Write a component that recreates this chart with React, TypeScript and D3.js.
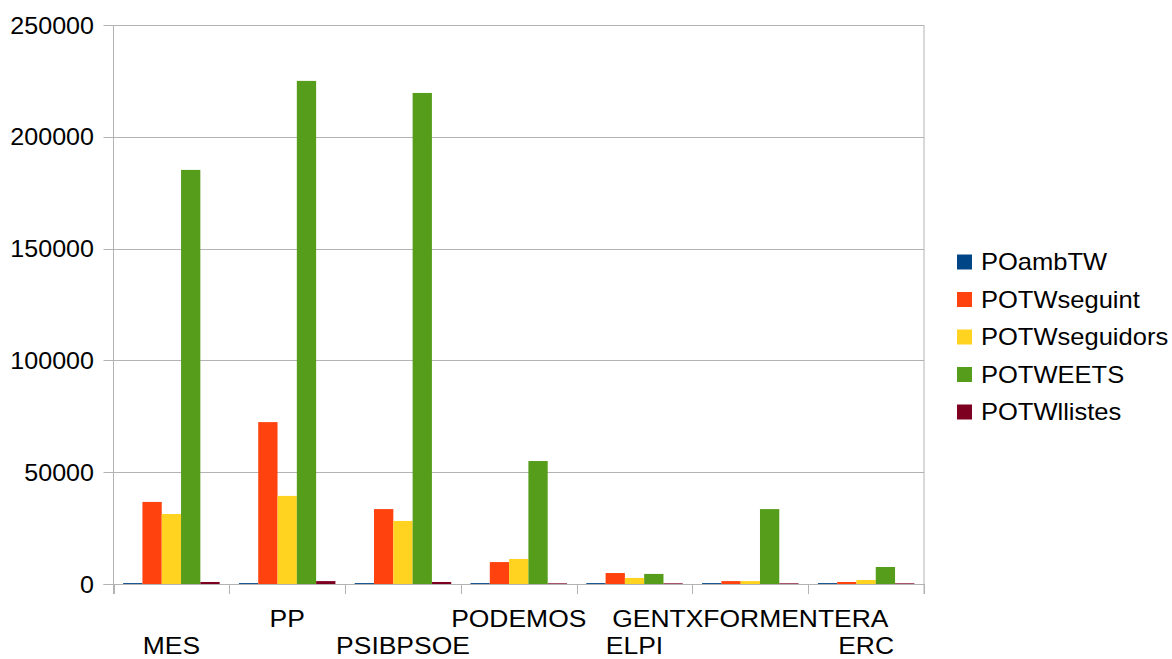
import React from "react";
import * as d3 from "d3";

const categories = ["MES", "PP", "PSIBPSOE", "PODEMOS", "ELPI", "GENTXFORMENTERA", "ERC"];
const seriesNames = ["POambTW", "POTWseguint", "POTWseguidors", "POTWEETS", "POTWllistes"];
const POambTW = [400, 400, 400, 400, 400, 400, 400];
const POTWseguint = [36700, 72400, 33500, 9800, 4900, 1300, 900];
const POTWseguidors = [31300, 39400, 28200, 11200, 2700, 1300, 1800];
const POTWEETS = [185200, 225000, 219600, 55000, 4500, 33500, 7600];
const POTWllistes = [900, 1300, 900, 300, 300, 300, 300];
const yTicks = [0, 50000, 100000, 150000, 200000, 250000];
const colors = ["#004586", "#ff420e", "#ffd320", "#579d1c", "#7e0021"];

const seriesValues = [POambTW, POTWseguint, POTWseguidors, POTWEETS, POTWllistes];

function T(props: { x: number; y: number; sx: number; fs: number; anchor?: string; children: React.ReactNode }) {
  return (
    <text
      transform={`translate(${props.x},${props.y}) scale(${props.sx},1)`}
      textAnchor={props.anchor || "start"}
      fontSize={props.fs}
      fill="#000"
    >
      {props.children}
    </text>
  );
}

export default function App() {
  const W = 1172, H = 659;
  const left = 113.5, right = 924, top = 25, bottom = 584;
  const x0 = d3.scaleBand<string>().domain(categories).range([left, right]).paddingInner(0).paddingOuter(0);
  const x1 = d3.scaleBand<string>().domain(seriesNames).range([0, x0.bandwidth()]).paddingInner(0).paddingOuter(0.5);
  const y = d3.scaleLinear().domain([0, 250000]).range([bottom, top]);
  const font = "'Liberation Sans', Arial, sans-serif";
  const boundaries = categories.map((c) => x0(c)!).concat([right]);

  return (
    <svg width={W} height={H} style={{ position: "absolute", left: 0, top: 0, background: "#fff" }} fontFamily={font}>
      <rect x={0} y={0} width={W} height={H} fill="#fff" />
      {yTicks.map((t) => (
        <g key={t}>
          <line x1={left - 10} x2={right} y1={Math.round(y(t)) + 0.5} y2={Math.round(y(t)) + 0.5} stroke="#b3b3b3" strokeWidth={1} />
          <T x={94} y={y(t) + 8.5} sx={1.09} fs={23} anchor="end">
            {t}
          </T>
        </g>
      ))}
      {seriesValues.map((vals, si) =>
        vals.map((v, ci) => (
          <rect
            key={`${si}-${ci}`}
            x={x0(categories[ci])! + x1(seriesNames[si])!}
            y={y(v)}
            width={x1.bandwidth()}
            height={y(0) - y(v)}
            fill={colors[si]}
          />
        ))
      )}
      <line x1={left} x2={left} y1={top} y2={bottom + 10} stroke="#b3b3b3" strokeWidth={1} />
      <line x1={right} x2={right} y1={top} y2={bottom + 10} stroke="#b3b3b3" strokeWidth={1} />
      <line x1={left - 10} x2={right} y1={bottom + 0.5} y2={bottom + 0.5} stroke="#b3b3b3" strokeWidth={1} />
      {boundaries.map((b, i) => (
        <line key={i} x1={Math.round(b) + 0.5} x2={Math.round(b) + 0.5} y1={bottom} y2={bottom + 10} stroke="#b3b3b3" strokeWidth={1} />
      ))}
      {categories.map((c, i) => (
        <T key={c} x={x0(c)! + x0.bandwidth() / 2} y={i % 2 === 0 ? 654 : 627} sx={1.08} fs={24.5} anchor="middle">
          {c}
        </T>
      ))}
      {seriesNames.map((s, i) => (
        <g key={s} transform={`translate(957, ${262 + i * 37.5})`}>
          <rect x={0} y={-7.5} width={15} height={15} fill={colors[i]} />
          <T x={24} y={8.3} sx={1.11} fs={23}>
            {s}
          </T>
        </g>
      ))}
    </svg>
  );
}
